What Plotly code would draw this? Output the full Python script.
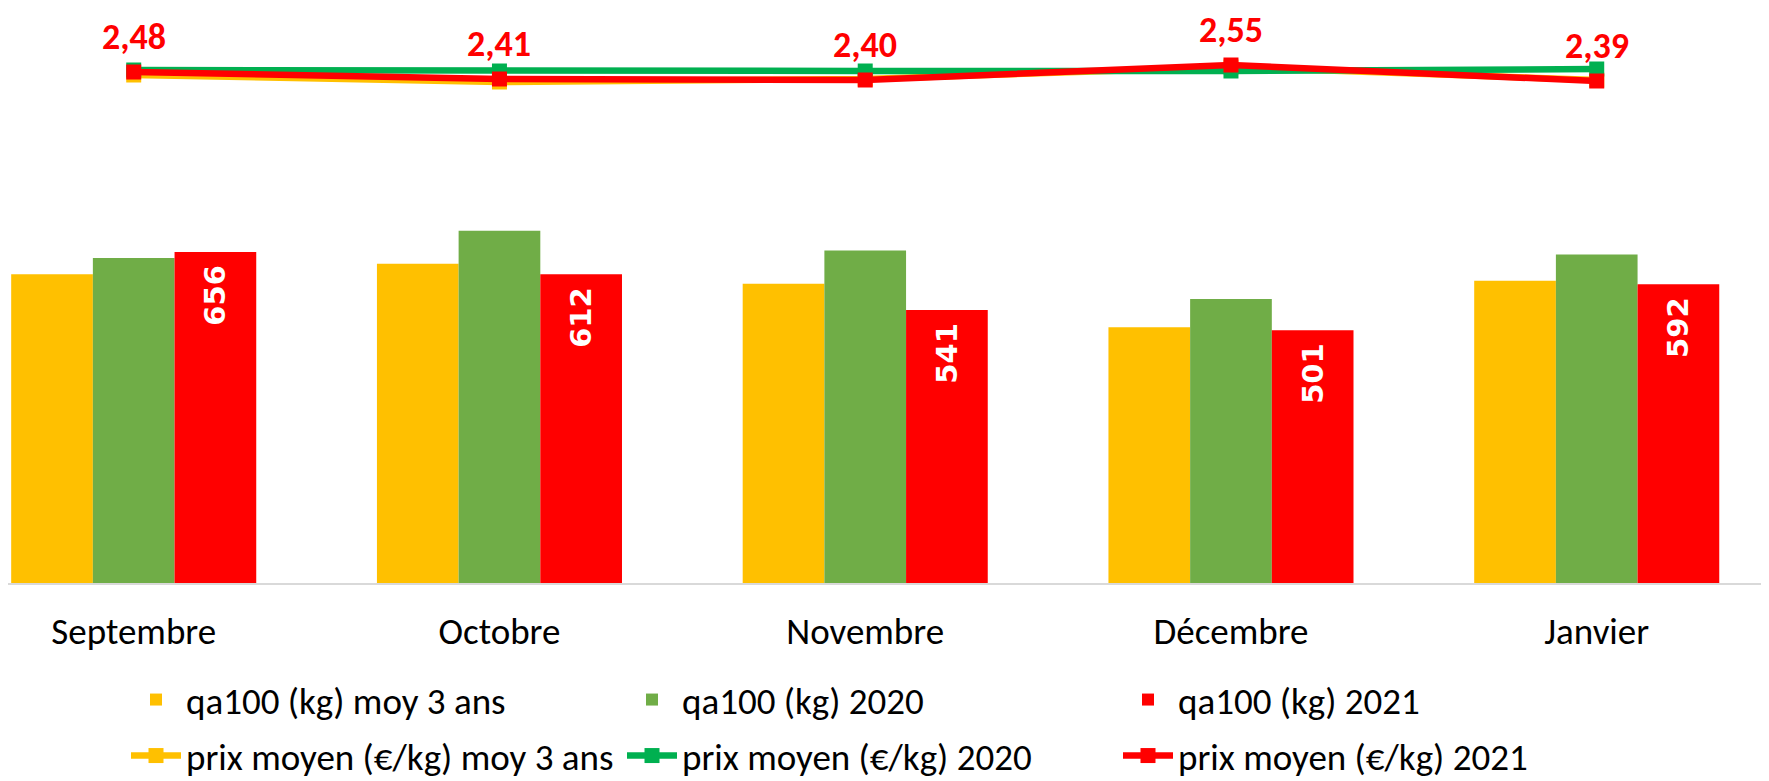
import plotly.graph_objects as go

months = ["Septembre", "Octobre", "Novembre", "Décembre", "Janvier"]

qa_moy3 = [612, 633, 593, 507, 599]
qa_2020 = [644, 698, 659, 563, 651]
qa_2021 = [656, 612, 541, 501, 592]

prix_moy3 = [2.45, 2.38, 2.41, 2.53, 2.40]
prix_2020 = [2.50, 2.49, 2.49, 2.49, 2.51]
prix_2021 = [2.48, 2.41, 2.40, 2.55, 2.39]

YELLOW = "#FFC000"
GREEN_BAR = "#70AD47"
GREEN_LINE = "#00B050"
RED = "#FF0000"
FONT = "Carlito, Lato, sans-serif"

W, H = 1761, 773          # page has an 8px body margin
PLOT_H = 575              # plot area height (page y 8 .. 583)

fig = go.Figure()
fig.add_trace(go.Bar(x=months, y=qa_moy3, name="qa100 (kg) moy 3 ans",
                     marker_color=YELLOW, marker_line_width=0, legend="legend"))
fig.add_trace(go.Bar(x=months, y=qa_2020, name="qa100 (kg) 2020",
                     marker_color=GREEN_BAR, marker_line_width=0, legend="legend"))
fig.add_trace(go.Bar(x=months, y=qa_2021, name="qa100 (kg) 2021",
                     marker_color=RED, marker_line_width=0, legend="legend",
                     text=[str(v) + "\u00a0" for v in qa_2021], textposition="inside",
                     insidetextanchor="end", textangle=-90,
                     textfont=dict(family="DejaVu Sans", size=29, color="white", weight="bold")))

fig.add_trace(go.Scatter(x=months, y=prix_moy3, name="prix moyen (€/kg) moy 3 ans",
                         yaxis="y2", mode="lines+markers", legend="legend2",
                         line=dict(color=YELLOW, width=6.5),
                         marker=dict(symbol="square", size=15, color=YELLOW)))
fig.add_trace(go.Scatter(x=months, y=prix_2020, name="prix moyen (€/kg) 2020",
                         yaxis="y2", mode="lines+markers", legend="legend2",
                         line=dict(color=GREEN_LINE, width=6.5),
                         marker=dict(symbol="square", size=15, color=GREEN_LINE)))
fig.add_trace(go.Scatter(x=months, y=prix_2021, name="prix moyen (€/kg) 2021",
                         yaxis="y2", mode="lines+markers", legend="legend2",
                         line=dict(color=RED, width=6.5),
                         marker=dict(symbol="square", size=15, color=RED)))

for m, v in zip(months, prix_2021):
    fig.add_annotation(x=m, y=v, xref="x", yref="y2", yanchor="bottom",
                       yshift=12, showarrow=False, borderpad=0,
                       text=f"{v:.2f}".replace(".", ","),
                       font=dict(family=FONT, size=36, color=RED, weight="bold"))

legend_common = dict(orientation="h", xanchor="left", yanchor="middle",
                     entrywidth=431, entrywidthmode="pixels", itemwidth=50,
                     font=dict(family=FONT, size=37, color="black"),
                     bgcolor="rgba(0,0,0,0)")

fig.update_layout(
    width=W, height=H,
    margin=dict(l=0, r=0, t=0, b=H - PLOT_H, autoexpand=False),
    paper_bgcolor="white", plot_bgcolor="white",
    barmode="group", bargap=0.33, bargroupgap=0,
    font=dict(family=FONT, size=37, color="black"),
    xaxis=dict(range=[-0.3437, 4.471], showgrid=False, showline=True,
               linecolor="#D9D9D9", linewidth=2, ticks="", ticklabelstandoff=15,
               tickfont=dict(family=FONT, size=37, color="black")),
    yaxis=dict(range=[0, 1139.7], visible=False, showgrid=False),
    yaxis2=dict(range=[-2.63, 3.12], overlaying="y", visible=False, showgrid=False),
    legend=dict(x=118/W, y=(PLOT_H - 692)/PLOT_H, **legend_common),
    legend2=dict(x=118/W, y=(PLOT_H - 748)/PLOT_H, **legend_common),
    showlegend=True,
)

fig.write_html("out.html")
